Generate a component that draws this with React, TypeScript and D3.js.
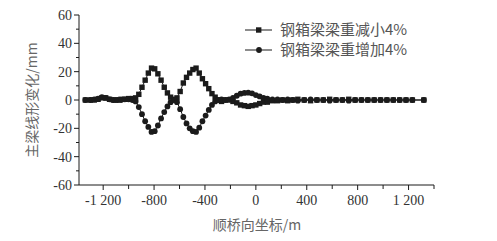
import React from 'react';
import * as d3 from 'd3';

// node positions along the bridge (m)
const xs = [
  -1340, -1300, -1270, -1240, -1210, -1180, -1150, -1120, -1090, -1060, -1030, -1000, -970, -945,
  -920, -895, -870, -845, -820, -795, -770, -745, -720, -695, -670, -645, -620, -595, -570, -545,
  -520, -495, -470, -445, -420, -395, -370, -345, -320, -295, -270, -240, -210, -180, -150, -120,
  -90, -60, -30, 0, 30, 60, 90, 130, 170, 210, 250, 290, 330, 380, 430, 480, 530, 580, 630, 680,
  730, 780, 830, 880, 930, 980, 1030, 1080, 1130, 1180, 1230, 1320,
];
// 钢箱梁梁重减小4%
const reduceVals = [
  0, 0, 0, 0.5, 1.5, 1.5, 0.5, 0, 0, 0.5, 0.5, 1, 1, 1.5,
  4, 9, 14, 19, 22.5, 22, 18.5, 14, 9, 5, 2, 0.5, 1.5, 6, 12, 16,
  19, 21.5, 22.5, 19, 15, 11.5, 8, 4.5, 2, 0, -1, 0, 0, -1, -2, -3.5,
  -4, -4.5, -4, -3.5, -2.5, -1.5, -1.5, -0.5, -0.5, 0, -0.5, 0, 0.5, 0, -0.5, 0, 0, 0.5, 0, 0,
  0.5, 0, 0, 0, 0, 0, 0, 0, 0, 0, 0, 0,
];
// 钢箱梁梁重增加4%
const increaseVals = [
  0, 0, 0.5, 1, 2, 1.5, 0.5, 0, 0, 0, 0.5, 0.5, 0, -1,
  -5, -10, -15, -19, -22.5, -22, -18, -13, -8.5, -4.5, -1.5, 0, -1.5, -6.5, -12, -16.5,
  -20, -22, -22.5, -19.5, -15, -11, -7, -3.5, -1, 0, 0.5, 0, 0.5, 1.5, 3, 4.5,
  5, 5.2, 4.7, 3.5, 2.5, 1.5, 1, 0.5, 0.5, 0, 0.5, 0, -0.5, 0, 0.5, 0, 0, -0.5, 0, 0,
  -0.5, 0, 0, 0, 0, 0, 0, 0, 0, 0, 0, 0,
];
const xTicks = [-1200, -800, -400, 0, 400, 800, 1200];
const yTicks = [60, 40, 20, 0, -20, -40, -60];
const legendLabels = ['钢箱梁梁重减小4%', '钢箱梁梁重增加4%'];

const serif = '"Liberation Serif", "DejaVu Serif", serif';
const cjk = '"Noto Sans CJK SC", sans-serif';

const fmtX = (v: number) => {
  const s = Math.abs(v) >= 1000 ? `${Math.trunc(v / 1000)} ${String(Math.abs(v) % 1000).padStart(3, '0')}` : `${v}`;
  return s;
};

export default function App() {
  const width = 497, height = 241;
  const x = d3.scaleLinear().domain([-1390, 1400]).range([79, 434]);
  const y = d3.scaleLinear().domain([-60, 60]).range([185, 15]);
  const line = d3.line<number>().x((_, i) => x(xs[i])).y(d => y(d));
  const ink = '#1b1b1b';

  const xMinor = d3.range(-1200, 1401, 200).filter(v => !xTicks.includes(v));
  const yMinor = d3.range(-50, 60, 20);

  return (
    <svg width={width} height={height} style={{ position: 'absolute', left: 0, top: 0, background: '#fff' }}>
      {/* series */}
      <path d={line(reduceVals) ?? ''} fill="none" stroke={ink} strokeWidth={1} />
      <path d={line(increaseVals) ?? ''} fill="none" stroke={ink} strokeWidth={1} />
      {reduceVals.map((v, i) => (
        <rect key={'s' + i} x={x(xs[i]) - 2.7} y={y(v) - 2.7} width={5.4} height={5.4} fill={ink} />
      ))}
      {increaseVals.map((v, i) => (
        <circle key={'c' + i} cx={x(xs[i])} cy={y(v)} r={2.9} fill={ink} />
      ))}

      {/* axes */}
      <line x1={79} x2={434} y1={185} y2={185} stroke={ink} strokeWidth={1} />
      <line x1={79} x2={79} y1={15} y2={185} stroke={ink} strokeWidth={1} />
      {xTicks.map(t => (
        <g key={'xt' + t}>
          <line x1={x(t)} x2={x(t)} y1={185} y2={190} stroke={ink} />
          <text x={x(t)} y={205} textAnchor="middle" fontFamily={serif} fontSize={14} fill="#333">{fmtX(t)}</text>
        </g>
      ))}
      {xMinor.map(t => (
        <line key={'xm' + t} x1={x(t)} x2={x(t)} y1={185} y2={189} stroke={ink} />
      ))}
      {yTicks.map(t => (
        <g key={'yt' + t}>
          <line x1={74} x2={79} y1={y(t)} y2={y(t)} stroke={ink} />
          <text x={72} y={y(t) + 5} textAnchor="end" fontFamily={serif} fontSize={14} fill="#333">{t}</text>
        </g>
      ))}
      {yMinor.map(t => (
        <line key={'ym' + t} x1={76} x2={79} y1={y(t)} y2={y(t)} stroke={ink} />
      ))}

      {/* axis titles */}
      <text x={257} y={230} textAnchor="middle" fontFamily={cjk} fontSize={14} fill="#666">顺桥向坐标/m</text>
      <text transform="translate(37,100) rotate(-90)" textAnchor="middle" fontFamily={cjk} fontSize={14} fill="#666">主梁线形变化/mm</text>

      {/* legend */}
      {legendLabels.map((lab, i) => {
        const ly = 30 + i * 20;
        return (
          <g key={'lg' + i}>
            <line x1={245} x2={272} y1={ly} y2={ly} stroke={ink} />
            {i === 0
              ? <rect x={256} y={ly - 2.7} width={5.4} height={5.4} fill={ink} />
              : <circle cx={259} cy={ly} r={2.9} fill={ink} />}
            <text x={280} y={ly + 5} fontFamily={cjk} fontSize={15} fill="#555">{lab}</text>
          </g>
        );
      })}
    </svg>
  );
}
